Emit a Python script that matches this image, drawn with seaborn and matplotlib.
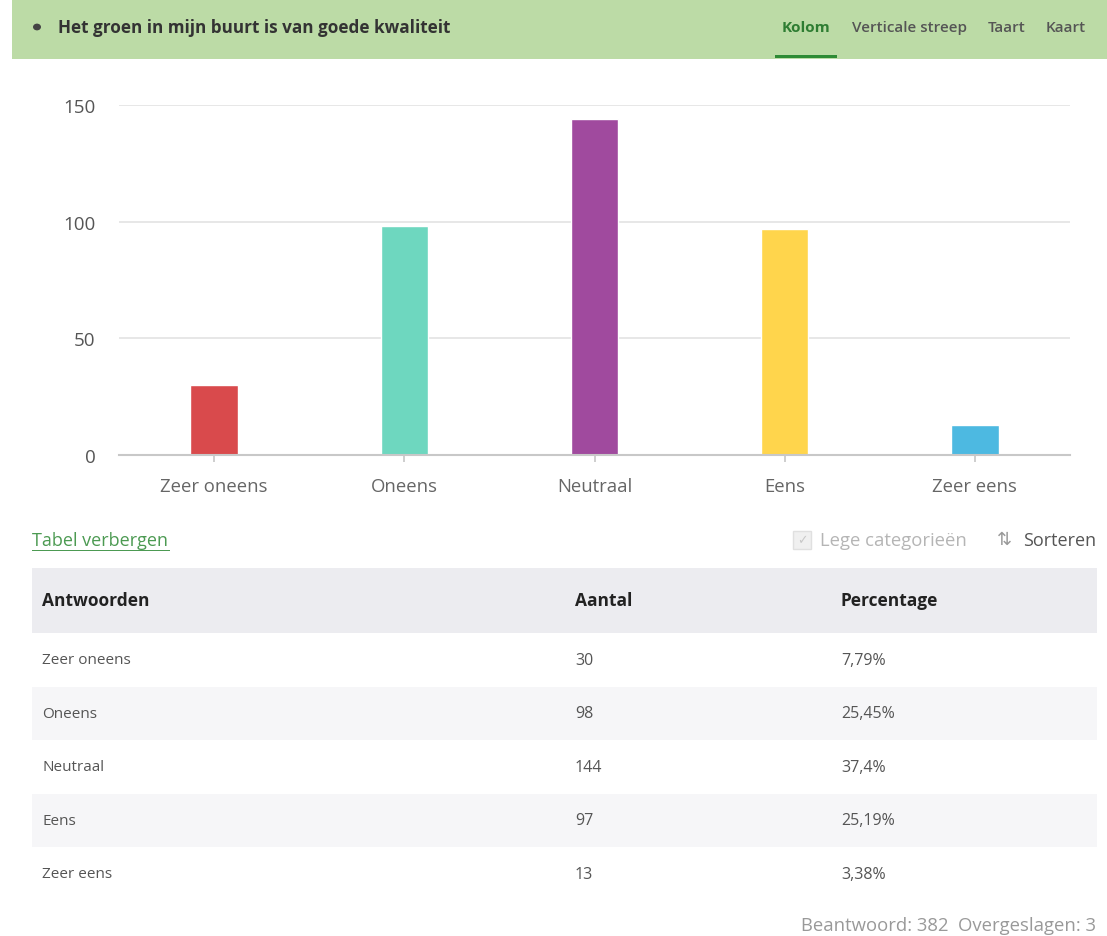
import matplotlib
matplotlib.use('Agg')
import matplotlib.pyplot as plt
import seaborn as sns
import pandas as pd
from matplotlib.patches import Rectangle, Circle

# Data
categories = ["Zeer oneens", "Oneens", "Neutraal", "Eens", "Zeer eens"]
counts = [30, 98, 144, 97, 13]
percentages = ["7,79%", "25,45%", "37,4%", "25,19%", "3,38%"]
bar_colors = ["#d94a4c", "#6ed7bf", "#a04a9e", "#ffd54c", "#4db9e1"]
y_ticks = [0, 50, 100, 150]
title = "Het groen in mijn buurt is van goede kwaliteit"
tabs = ["Kolom", "Verticale streep", "Taart", "Kaart"]
table_headers = ["Antwoorden", "Aantal", "Percentage"]
answered, skipped = 382, 3

W, H = 1107, 937
sns.set_theme(style="white")
plt.rcParams['font.family'] = ['Open Sans', 'DejaVu Sans']

fig = plt.figure(figsize=(W / 100, H / 100), dpi=100)


def fx(px):
    return px / W


def fy(py):
    return 1 - py / H


# Header band
fig.patches.append(Rectangle((fx(12), fy(60)), fx(W - 12), 60 / H, transform=fig.transFigure,
                             facecolor="#bcdba6", edgecolor="none", zorder=0))
fig.patches.append(Circle((fx(37), fy(28)), 4 / W, transform=fig.transFigure,
                          facecolor="#444444", edgecolor="none"))
fig.text(fx(58), fy(28), title, fontsize=12.3, fontweight="bold", color="#333333", va="center")
tab_x = [782, 852, 988, 1046]
for i, (t, x) in enumerate(zip(tabs, tab_x)):
    fig.text(fx(x), fy(28), t, fontsize=11, fontweight="bold" if i == 0 else "semibold",
             color="#2e7d32" if i == 0 else "#555555", va="center")
fig.patches.append(Rectangle((fx(775), fy(59)), fx(62), 3 / H, transform=fig.transFigure,
                             facecolor="#2e8b35", edgecolor="none"))

# Bar chart
ax = fig.add_axes([fx(119), fy(456), fx(1070 - 119), (456 - 106) / H])
df = pd.DataFrame({"categorie": categories, "aantal": counts})
sns.barplot(data=df, x="categorie", y="aantal", hue="categorie", palette=bar_colors,
            legend=False, width=0.25, saturation=1, ax=ax)
ax.set_xlim(-0.5, len(categories) - 0.5)
ax.set_ylim(0, 150)
ax.set_yticks(y_ticks)
ax.yaxis.grid(True, color="#e3e3e3", linewidth=1.2)
ax.set_axisbelow(True)
for s in ["top", "right", "left"]:
    ax.spines[s].set_visible(False)
ax.spines["bottom"].set_color("#c8c8c8")
ax.spines["bottom"].set_linewidth(1.5)
ax.set_xlabel("")
ax.set_ylabel("")
ax.tick_params(axis="x", bottom=True, length=5, color="#c8c8c8", labelsize=13.3, labelcolor="#666666", pad=11)
ax.tick_params(axis="y", left=False, labelsize=13.5, labelcolor="#555555", pad=11)

# Table controls
fig.text(fx(32), fy(541), "Tabel verbergen", fontsize=13, color="#4c9a52", va="center")
fig.patches.append(Rectangle((fx(32), fy(552)), fx(138), 1.2 / H, transform=fig.transFigure,
                             facecolor="#4c9a52", edgecolor="none"))
fig.patches.append(Rectangle((fx(793), fy(550)), fx(18), 18 / H, transform=fig.transFigure,
                             facecolor="#f0f0f0", edgecolor="#e0e0e0"))
fig.text(fx(802), fy(541), "✓", fontsize=9, color="#c8c8c8", va="center", ha="center",
         family=['DejaVu Sans'])
fig.text(fx(820), fy(541), "Lege categorieën", fontsize=13.3, color="#b5b5b5", va="center")
fig.text(fx(997), fy(540), "⇅", fontsize=13, color="#999999", va="center", family=['DejaVu Sans'])
fig.text(fx(1023), fy(541), "Sorteren", fontsize=13, color="#555555", va="center")

# Table
col_x = [42, 575, 841]
fig.patches.append(Rectangle((fx(32), fy(634)), fx(1097 - 32), 65 / H, transform=fig.transFigure,
                             facecolor="#ececf0", edgecolor="none"))
for h, x in zip(table_headers, col_x):
    fig.text(fx(x), fy(601), h, fontsize=12.5, fontweight="bold", color="#222222", va="center")

row_h = 53.5
for i, (c, n, p) in enumerate(zip(categories, counts, percentages)):
    top = 634 + i * row_h
    if i % 2 == 1:
        fig.patches.append(Rectangle((fx(32), fy(top + row_h)), fx(1097 - 32), row_h / H,
                                     transform=fig.transFigure, facecolor="#f6f6f8", edgecolor="none"))
    yc = top + row_h / 2
    fig.text(fx(col_x[0]), fy(yc), c, fontsize=11, color="#555555", va="center")
    fig.text(fx(col_x[1]), fy(yc), str(n), fontsize=11.5, color="#555555", va="center")
    fig.text(fx(col_x[2]), fy(yc), p, fontsize=11.5, color="#555555", va="center")

fig.text(fx(1096), fy(926), f"Beantwoord: {answered}  Overgeslagen: {skipped}", fontsize=13.3,
         color="#999999", va="center", ha="right")

fig.savefig("out.png", dpi=100, facecolor="white")
